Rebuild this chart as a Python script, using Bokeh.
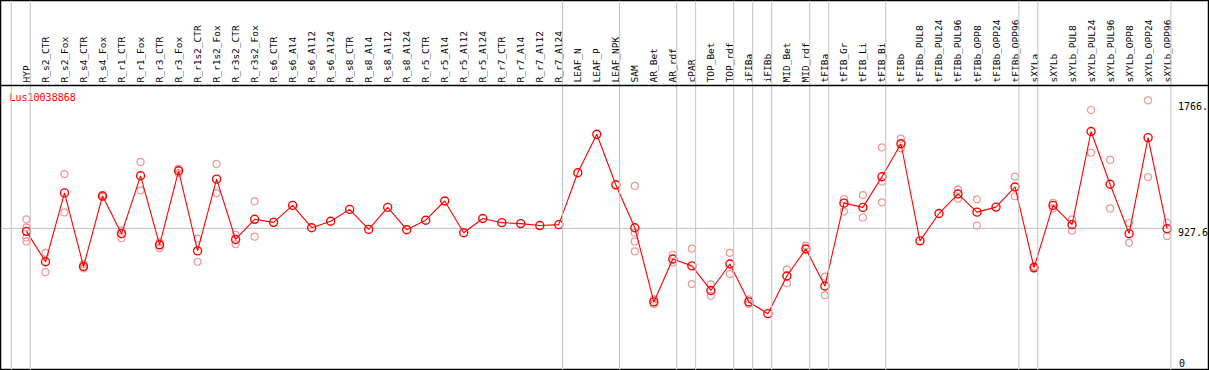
import numpy as np
from bokeh.plotting import figure
from bokeh.models import Range1d, Span, ColumnDataSource
from bokeh.core.properties import value
from bokeh.embed import file_html
from bokeh.resources import INLINE

gene = "Lus10038868"

categories = [
    "HYP", "R_s2_CTR", "R_s2_Fox", "R_s4_CTR", "R_s4_Fox", "R_r1_CTR", "R_r1_Fox",
    "R_r3_CTR", "R_r3_Fox", "R_r1s2_CTR", "R_r1s2_Fox", "R_r3s2_CTR", "R_r3s2_Fox",
    "R_s6_CTR", "R_s6_Al4", "R_s6_Al12", "R_s6_Al24", "R_s8_CTR", "R_s8_Al4",
    "R_s8_Al12", "R_s8_Al24", "R_r5_CTR", "R_r5_Al4", "R_r5_Al12", "R_r5_Al24",
    "R_r7_CTR", "R_r7_Al4", "R_r7_Al12", "R_r7_Al24", "LEAF_N", "LEAF_P", "LEAF_NPK",
    "SAM", "AR_Bet", "AR_rdf", "cPAR", "TOP_Bet", "TOP_rdf", "iFIBa", "iFIBb",
    "MID_Bet", "MID_rdf", "tFIBa", "tFIB_Gr", "tFIB_Li", "tFIB_Bi", "tFIBb",
    "tFIBb_PUL8", "tFIBb_PUL24", "tFIBb_PUL96", "tFIBb_OPP8", "tFIBb_OPP24",
    "tFIBb_OPP96", "sXYLa", "sXYLb", "sXYLb_PUL8", "sXYLb_PUL24", "sXYLb_PUL96",
    "sXYLb_OPP8", "sXYLb_OPP24", "sXYLb_OPP96",
]

mean_values = [
    908, 709, 1160, 678, 1140, 893, 1272, 820, 1305, 780, 1250, 855, 987,
    967, 1078, 932, 974, 1052, 921, 1065, 919, 981, 1107, 899, 992,
    965, 959, 946, 952, 1292, 1544, 1213,
    932, 446, 727, 682, 521, 694, 446, 369,
    616, 793, 550, 1093, 1065, 1266, 1482,
    846, 1025, 1153, 1034, 1067, 1199,
    671, 1078, 952, 1562, 1217, 893, 1522, 926,
]

rep_categories = [
    "HYP", "HYP", "HYP", "HYP",
    "R_s2_CTR", "R_s2_CTR", "R_s2_Fox", "R_s2_Fox", "R_s4_CTR", "R_s4_CTR",
    "R_s4_Fox", "R_s4_Fox", "R_r1_CTR", "R_r1_CTR", "R_r1_Fox", "R_r1_Fox",
    "R_r3_CTR", "R_r3_CTR", "R_r3_Fox", "R_r3_Fox", "R_r1s2_CTR", "R_r1s2_CTR",
    "R_r1s2_Fox", "R_r1s2_Fox", "R_r3s2_CTR", "R_r3s2_CTR", "R_r3s2_Fox", "R_r3s2_Fox",
    "SAM", "SAM", "SAM", "SAM", "AR_Bet", "AR_Bet", "AR_rdf", "AR_rdf",
    "cPAR", "cPAR", "TOP_Bet", "TOP_Bet", "TOP_rdf", "TOP_rdf", "iFIBa", "iFIBa",
    "MID_Bet", "MID_Bet", "MID_rdf", "tFIBa", "tFIBa", "tFIB_Gr", "tFIB_Gr",
    "tFIB_Li", "tFIB_Li", "tFIB_Bi", "tFIB_Bi", "tFIB_Bi", "tFIBb", "tFIBb",
    "tFIBb_PUL96", "tFIBb_PUL96", "tFIBb_OPP8", "tFIBb_OPP8", "tFIBb_OPP96", "tFIBb_OPP96",
    "sXYLa", "sXYLa", "sXYLb", "sXYLb", "sXYLb_PUL8", "sXYLb_PUL8",
    "sXYLb_PUL24", "sXYLb_PUL24", "sXYLb_PUL96", "sXYLb_PUL96",
    "sXYLb_OPP8", "sXYLb_OPP8", "sXYLb_OPP24", "sXYLb_OPP24", "sXYLb_OPP96", "sXYLb_OPP96",
]

rep_values = [
    987, 934, 868, 842,
    767, 641, 1283, 1032, 694, 665,
    1146, 1133, 914, 863, 1363, 1177,
    837, 797, 1319, 1290, 861, 709,
    1350, 1158, 886, 824, 1105, 873,
    1206, 899, 842, 777, 462, 433, 755, 704,
    795, 563, 561, 486, 767, 628, 462, 433,
    658, 568, 815, 612, 490, 1120, 1038,
    1146, 999, 1458, 1234, 1098, 1515, 1453,
    1181, 1122, 1118, 946, 1266, 1138,
    663, 679, 1095, 1058, 987, 912,
    1703, 1423, 1376, 1058,
    963, 833, 1766, 1264, 965, 877,
]

ref_value = 927.6
max_value = 1766.0

# groups end after these categories (first one is the frame start)
group_ends = ["HYP", "R_r7_Al24", "LEAF_NPK", "AR_rdf", "cPAR", "TOP_rdf", "iFIBa",
              "iFIBb", "MID_rdf", "tFIBa", "tFIB_Bi", "tFIBb_OPP96", "sXYLa", "sXYLb_OPP96"]

# ---------------------------------------------------------------
idx = {c: i for i, c in enumerate(categories)}
W, H = 1209, 370
step = 19.01           # px per category
x0 = 26.0              # px of first category
vpp = 6.55             # value per px
ybase = 369.5          # px of value 0

xs = -x0 / step
xe = xs + W / step
ys = -(H - ybase) * vpp
ye = ybase * vpp

p = figure(width=W, height=H, output_backend="svg", toolbar_location=None,
           x_range=Range1d(xs, xe), y_range=Range1d(ys, ye),
           x_axis_location=None, y_axis_location=None, min_border=0,
           background_fill_color="white", border_fill_color="white",
           outline_line_color="black", outline_line_width=1.5)
p.grid.visible = False
p.extra_y_ranges = {"hdr": Range1d(H, 0)}
p.extra_x_ranges = {"px": Range1d(0, W)}
p.styles = {"position": "absolute", "left": "0px", "top": "0px"}

grid_col = "#c4c4c4"
# group separators
seps = [-0.8] + [idx[c] + 0.2 for c in group_ends]
for s in seps:
    p.add_layout(Span(location=s, dimension="height", line_color=grid_col, line_width=1))

# reference line at the mean level
p.line(x=[xs, idx[group_ends[-1]] + 0.2], y=[ref_value, ref_value],
       line_color=grid_col, line_width=1)

# header separator
p.add_layout(Span(location=85, dimension="width", y_range_name="hdr",
                  line_color="black", line_width=1.5))

# header labels
hsrc = ColumnDataSource(dict(x=list(range(len(categories))), y=[82] * len(categories),
                             t=categories))
p.text(x="x", y="y", text="t", source=hsrc, y_range_name="hdr", angle=np.pi / 2,
       text_align="left", text_baseline="middle", text_color="black",
       text_font=value("DejaVu Sans Mono"), text_font_size="9.5px")

# title
p.text(x=[9], y=[97], text=[gene], x_range_name="px", y_range_name="hdr",
       text_align="left", text_baseline="middle", text_color="red",
       text_font=value("DejaVu Sans Mono"), text_font_size="10px")

# value labels on right
lx = idx[group_ends[-1]] + 0.2
p.text(x=[lx], y=[max_value], text=["%d." % int(max_value)], x_offset=7, y_offset=2,
       text_align="left", text_baseline="top", text_color="black",
       text_font=value("DejaVu Sans Mono"), text_font_size="10px")
p.text(x=[lx], y=[ref_value], text=["%.1f" % ref_value], x_offset=7, y_offset=4,
       text_align="left", text_baseline="middle", text_color="black",
       text_font=value("DejaVu Sans Mono"), text_font_size="10px")
p.text(x=[lx], y=[0], text=["0"], x_offset=8, y_offset=-3,
       text_align="left", text_baseline="bottom", text_color="black",
       text_font=value("DejaVu Sans Mono"), text_font_size="10px")

# replicates
rsrc = ColumnDataSource(dict(x=[idx[c] for c in rep_categories], y=rep_values))
p.scatter(x="x", y="y", source=rsrc, marker="circle", size=7, fill_color=None,
          line_color="#f09595", line_width=1.2)

# mean line + markers
msrc = ColumnDataSource(dict(x=[idx[c] for c in categories], y=mean_values))
p.line(x="x", y="y", source=msrc, line_color="red", line_width=1.1)
p.scatter(x="x", y="y", source=msrc, marker="circle", size=8, fill_color=None,
          line_color="red", line_width=1.4)

open("out.html", "w").write(file_html(p, INLINE))
